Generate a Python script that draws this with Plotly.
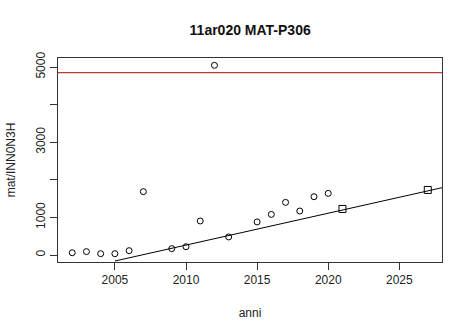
import plotly.graph_objects as go

# observed values
years = [2002, 2003, 2004, 2005, 2006, 2007, 2009, 2010, 2011, 2012, 2013,
         2015, 2016, 2017, 2018, 2019, 2020]
values = [60, 90, 35, 35, 115, 1685, 170, 220, 905, 5045, 480,
          880, 1080, 1400, 1170, 1550, 1640]

# predicted points (squares)
pred_years = [2021, 2027]
pred_values = [1225, 1730]

# trend line endpoints
trend_years = [2005, 2028]
trend_values = [-160, 1790]

# threshold
threshold = 4850

y_ticks = [0, 1000, 2000, 3000, 4000, 5000]
y_ticklabels = ["0", "1000", "", "3000", "", "5000"]
x_ticks = [2005, 2010, 2015, 2020, 2025]

font = "Liberation Sans, Arial, sans-serif"

fig = go.Figure()
fig.add_trace(go.Scatter(x=trend_years, y=trend_values, mode="lines",
                         line=dict(color="black", width=1), hoverinfo="skip"))
fig.add_trace(go.Scatter(x=years, y=values, mode="markers",
                         marker=dict(symbol="circle-open", size=6,
                                     color="black", line=dict(width=1))))
fig.add_trace(go.Scatter(x=pred_years, y=pred_values, mode="markers",
                         marker=dict(symbol="square-open", size=7,
                                     color="black", line=dict(width=1))))
fig.add_hline(y=threshold, line=dict(color="#b83a30", width=1.2))

fig.update_layout(
    width=472, height=334,
    margin=dict(l=58, r=30, t=58, b=72),
    paper_bgcolor="white", plot_bgcolor="white",
    showlegend=False,
    font=dict(family=font, size=12, color="#222"),
    title=dict(text="<b>11ar020 MAT-P306</b>", x=0.53, xanchor="center",
               y=0.91, yanchor="middle", font=dict(size=14, color="#111")),
)
fig.update_xaxes(range=[2001, 2028], tickvals=x_ticks, showgrid=False,
                 automargin=False,
                 zeroline=False, showline=True, mirror=True, linecolor="#333",
                 linewidth=1, ticks="outside", ticklen=7, tickcolor="#333",
                 title=dict(text="anni", standoff=22, font=dict(size=12)),
                 tickfont=dict(size=12))
fig.update_yaxes(range=[-186, 5240], tickvals=y_ticks, ticktext=y_ticklabels,
                 automargin=False,
                 tickangle=-90, showgrid=False, zeroline=False, showline=True,
                 mirror=True, linecolor="#333", linewidth=1, ticks="outside",
                 ticklen=7, tickcolor="#333",
                 title=dict(text="mat/INN0N3H", standoff=16, font=dict(size=12)),
                 tickfont=dict(size=12))

fig.write_html("out.html")
